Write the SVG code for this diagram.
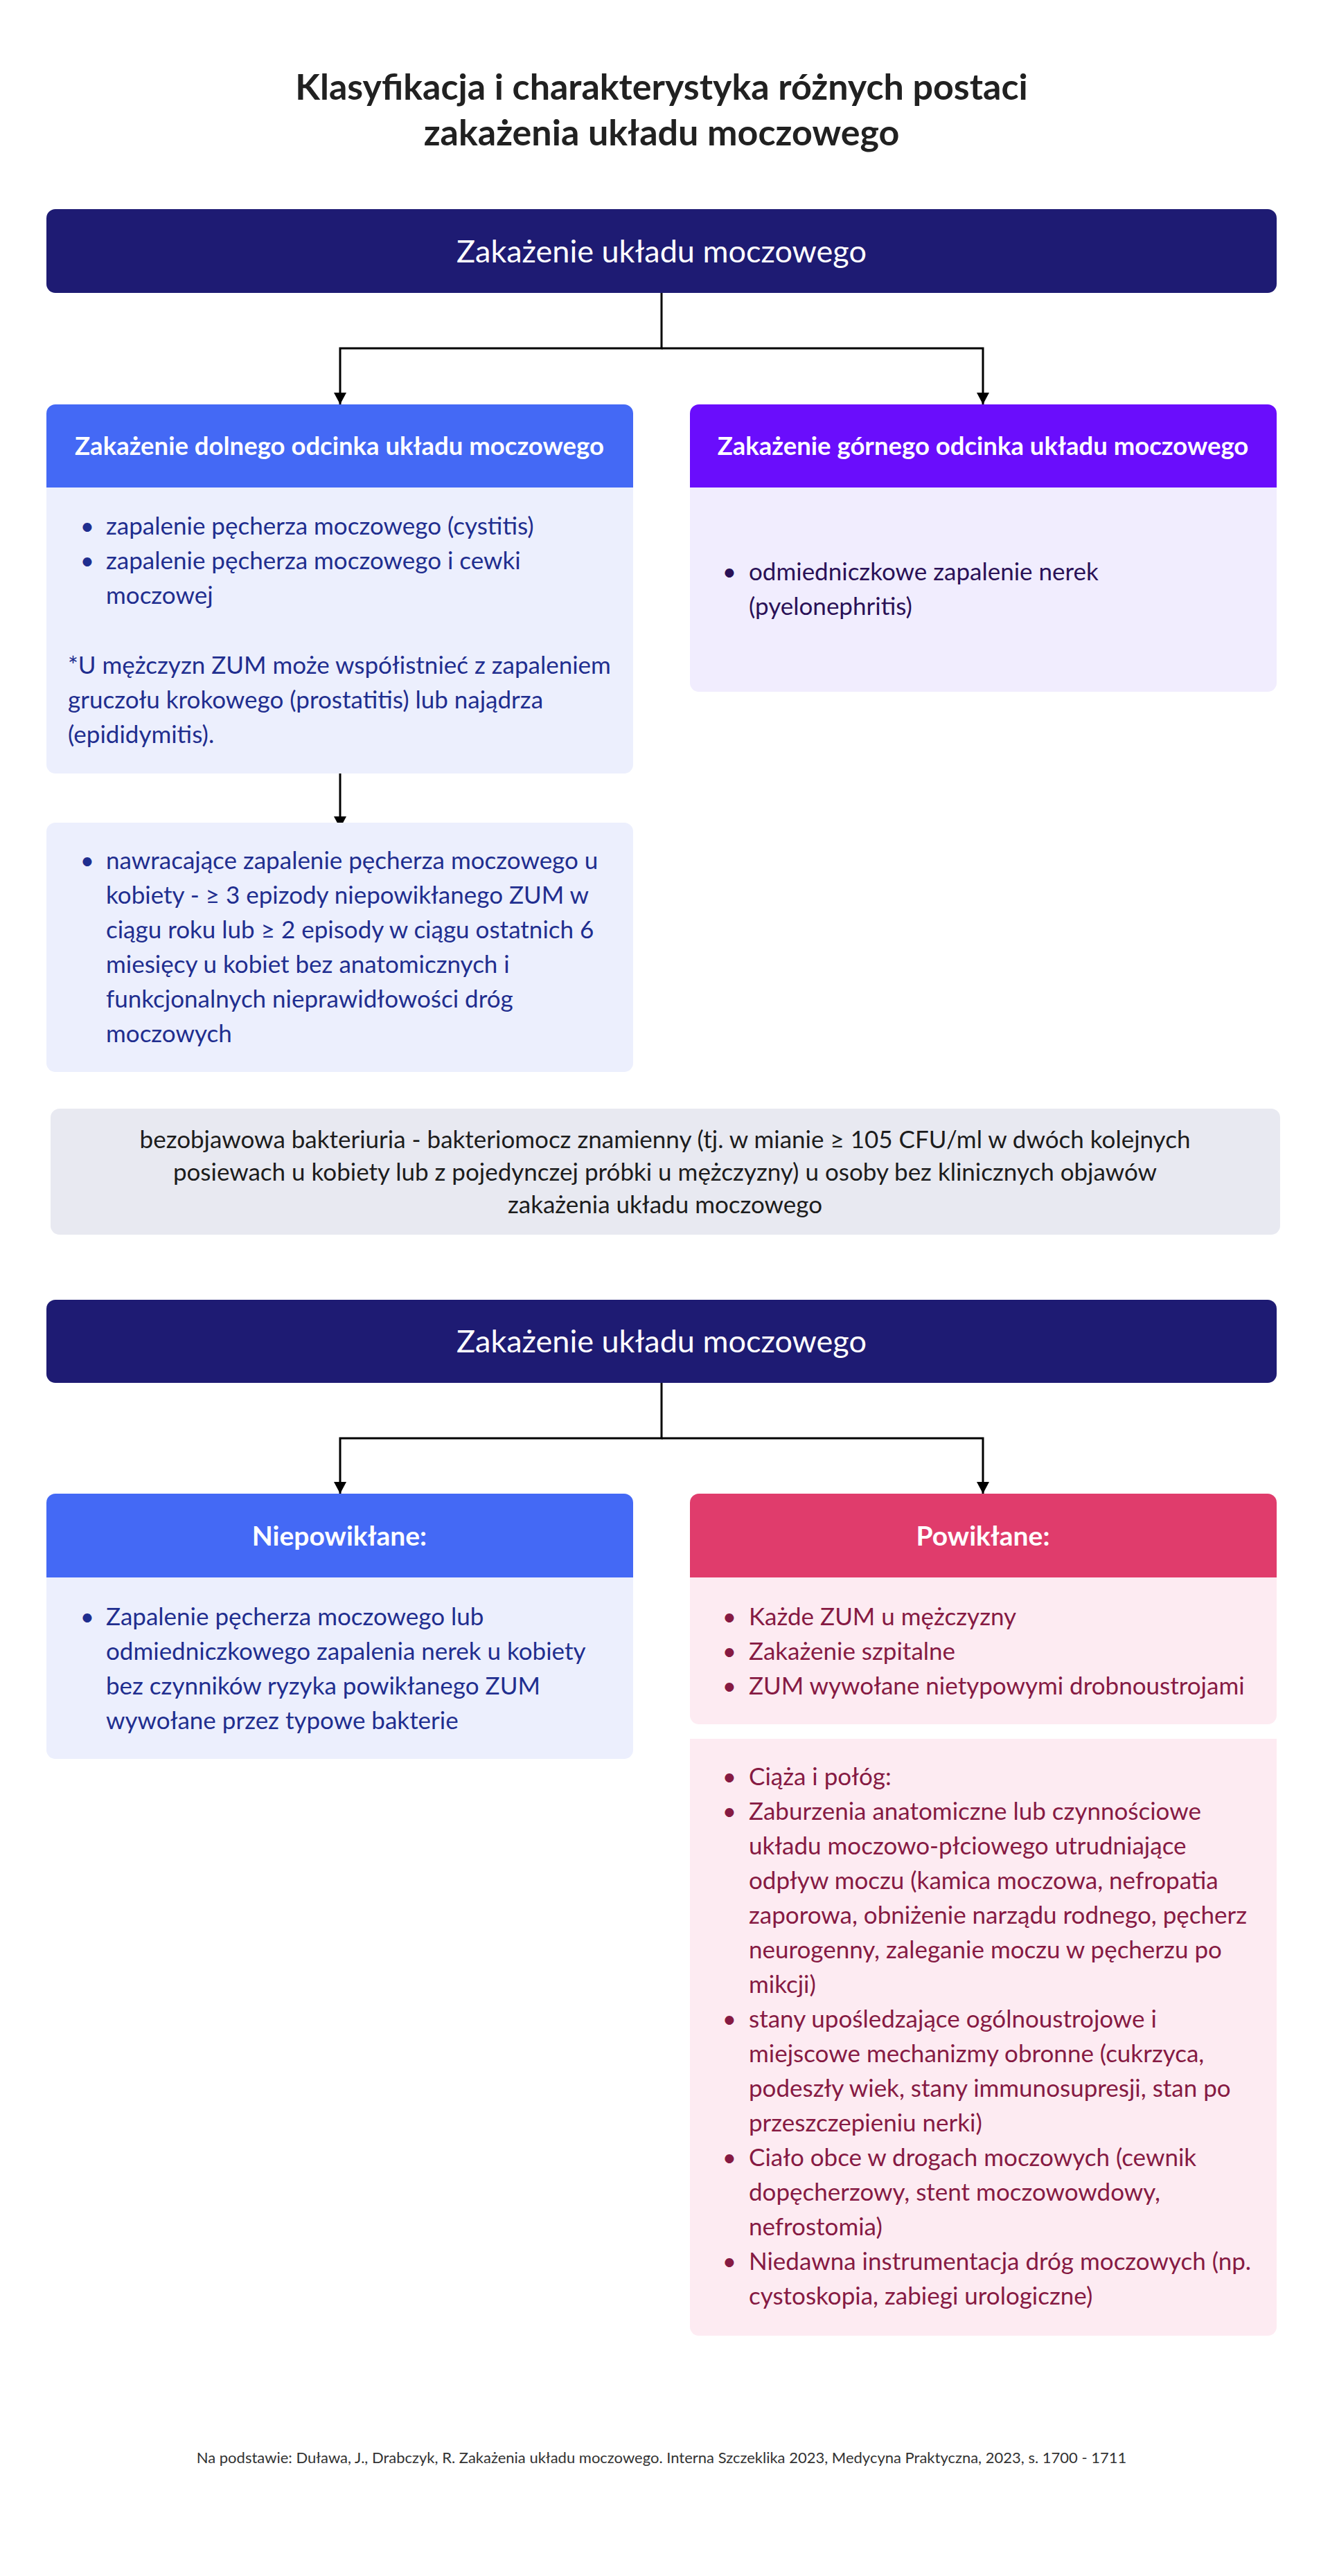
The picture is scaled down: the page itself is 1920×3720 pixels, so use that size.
<svg xmlns="http://www.w3.org/2000/svg" width="1920" height="3720" viewBox="0 0 1920 3720">
<defs>
<marker id="arr" markerUnits="userSpaceOnUse" markerWidth="18" markerHeight="18" refX="17" refY="9" orient="auto">
<path d="M0,0 L17,9 L0,18 Z" fill="#000"/>
</marker>
<style>
text{font-family:Lato,"Noto Sans","Liberation Sans",sans-serif;}
.title{font-size:52px;font-weight:700;fill:#212121;text-anchor:middle;}
.main{font-size:45px;font-weight:400;fill:#fff;text-anchor:middle;}
.sub{font-size:36.5px;font-weight:700;fill:#fff;text-anchor:middle;}
.sub2{font-size:39px;font-weight:700;fill:#fff;text-anchor:middle;}
.b{font-size:35px;}
.bl{text-anchor:middle;}
.blue{fill:#1F2E8F;}
.purp{fill:#2A1157;}
.pink{fill:#861A43;}
.grey{fill:#1C1C1C;font-size:35px;text-anchor:middle;}
.foot{font-size:22px;fill:#333;text-anchor:middle;}
.conn{fill:none;stroke:#000;stroke-width:3;}
</style>
</defs>
<rect width="1920" height="3720" fill="#fff"/>
<g id="title">
<text class="title" x="955" y="144">Klasyfikacja i charakterystyka różnych postaci</text>
<text class="title" x="955" y="210">zakażenia układu moczowego</text>
</g>
<g id="connectors">
<path class="conn" d="M955,423 V503 H491 V584" marker-end="url(#arr)"/>
<path class="conn" d="M955,503 H1419 V584" marker-end="url(#arr)"/>
<path class="conn" d="M491,1117 V1196" marker-end="url(#arr)"/>
<path class="conn" d="M955,1997 V2077 H491 V2157" marker-end="url(#arr)"/>
<path class="conn" d="M955,2077 H1419 V2157" marker-end="url(#arr)"/>
</g>
<g id="node-zum1">
<rect x="67" y="302" width="1776" height="121" rx="13" fill="#1E1B73"/>
<text class="main" x="955" y="379">Zakażenie układu moczowego</text>
</g>
<g id="node-dolny">
<path d="M67,704 V597 A13,13 0 0 1 80,584 H901 A13,13 0 0 1 914,597 V704 Z" fill="#4469F5"/>
<path d="M67,704 H914 V1104 A13,13 0 0 1 901,1117 H80 A13,13 0 0 1 67,1104 Z" fill="#ECEFFD"/>
<text class="sub" x="490" y="657">Zakażenie dolnego odcinka układu moczowego</text>
<g class="b blue">
<text class="bl" x="126" y="772">•</text><text x="153" y="772">zapalenie pęcherza moczowego (cystitis)</text>
<text class="bl" x="126" y="822">•</text><text x="153" y="822">zapalenie pęcherza moczowego i cewki</text>
<text x="153" y="872">moczowej</text>
<text x="98" y="973">*U mężczyzn ZUM może współistnieć z zapaleniem</text>
<text x="98" y="1023">gruczołu krokowego (prostatitis) lub najądrza</text>
<text x="98" y="1073">(epididymitis).</text>
</g>
</g>
<g id="node-nawracajace">
<rect x="67" y="1188" width="847" height="360" rx="13" fill="#ECEFFD"/>
<g class="b blue">
<text class="bl" x="126" y="1255">•</text><text x="153" y="1255">nawracające zapalenie pęcherza moczowego u</text>
<text x="153" y="1305">kobiety - ≥ 3 epizody niepowikłanego ZUM w</text>
<text x="153" y="1355">ciągu roku lub ≥ 2 episody w ciągu ostatnich 6</text>
<text x="153" y="1405">miesięcy u kobiet bez anatomicznych i</text>
<text x="153" y="1455">funkcjonalnych nieprawidłowości dróg</text>
<text x="153" y="1505">moczowych</text>
</g>
</g>
<g id="node-gorny">
<path d="M996,704 V597 A13,13 0 0 1 1009,584 H1830 A13,13 0 0 1 1843,597 V704 Z" fill="#6A0DFC"/>
<path d="M996,704 H1843 V986 A13,13 0 0 1 1830,999 H1009 A13,13 0 0 1 996,986 Z" fill="#F1EDFE"/>
<text class="sub" x="1419" y="657">Zakażenie górnego odcinka układu moczowego</text>
<g class="b purp">
<text class="bl" x="1053" y="838">•</text><text x="1081" y="838">odmiedniczkowe zapalenie nerek</text>
<text x="1081" y="888">(pyelonephritis)</text>
</g>
</g>
<g id="node-bezobjawowa">
<rect x="73" y="1601" width="1775" height="182" rx="13" fill="#E8E9F1"/>
<text class="grey" x="960" y="1658">bezobjawowa bakteriuria - bakteriomocz znamienny (tj. w mianie ≥ 105 CFU/ml w dwóch kolejnych</text>
<text class="grey" x="960" y="1705">posiewach u kobiety lub z pojedynczej próbki u mężczyzny) u osoby bez klinicznych objawów</text>
<text class="grey" x="960" y="1752">zakażenia układu moczowego</text>
</g>
<g id="node-zum2">
<rect x="67" y="1877" width="1776" height="120" rx="13" fill="#1E1B73"/>
<text class="main" x="955" y="1953">Zakażenie układu moczowego</text>
</g>
<g id="node-niepowiklane">
<path d="M67,2278 V2170 A13,13 0 0 1 80,2157 H901 A13,13 0 0 1 914,2170 V2278 Z" fill="#4469F5"/>
<path d="M67,2278 H914 V2527 A13,13 0 0 1 901,2540 H80 A13,13 0 0 1 67,2527 Z" fill="#ECEFFD"/>
<text class="sub2" x="490" y="2232">Niepowikłane:</text>
<g class="b blue">
<text class="bl" x="126" y="2347">•</text><text x="153" y="2347">Zapalenie pęcherza moczowego lub</text>
<text x="153" y="2397">odmiedniczkowego zapalenia nerek u kobiety</text>
<text x="153" y="2447">bez czynników ryzyka powikłanego ZUM</text>
<text x="153" y="2497">wywołane przez typowe bakterie</text>
</g>
</g>
<g id="node-powiklane">
<path d="M996,2278 V2170 A13,13 0 0 1 1009,2157 H1830 A13,13 0 0 1 1843,2170 V2278 Z" fill="#E03C6C"/>
<path d="M996,2278 H1843 V2477 A13,13 0 0 1 1830,2490 H1009 A13,13 0 0 1 996,2477 Z" fill="#FDEBF2"/>
<text class="sub2" x="1419" y="2232">Powikłane:</text>
<g class="b pink">
<text class="bl" x="1053" y="2347">•</text><text x="1081" y="2347">Każde ZUM u mężczyzny</text>
<text class="bl" x="1053" y="2397">•</text><text x="1081" y="2397">Zakażenie szpitalne</text>
<text class="bl" x="1053" y="2447">•</text><text x="1081" y="2447">ZUM wywołane nietypowymi drobnoustrojami</text>
</g>
</g>
<g id="node-czynniki">
<path d="M996,2511 H1843 V3360 A13,13 0 0 1 1830,3373 H1009 A13,13 0 0 1 996,3360 Z" fill="#FDEBF2"/>
<g class="b pink">
<text class="bl" x="1053" y="2578">•</text><text x="1081" y="2578">Ciąża i połóg:</text>
<text class="bl" x="1053" y="2628">•</text><text x="1081" y="2628">Zaburzenia anatomiczne lub czynnościowe</text>
<text x="1081" y="2678">układu moczowo-płciowego utrudniające</text>
<text x="1081" y="2728">odpływ moczu (kamica moczowa, nefropatia</text>
<text x="1081" y="2778">zaporowa, obniżenie narządu rodnego, pęcherz</text>
<text x="1081" y="2828">neurogenny, zaleganie moczu w pęcherzu po</text>
<text x="1081" y="2878">mikcji)</text>
<text class="bl" x="1053" y="2928">•</text><text x="1081" y="2928">stany upośledzające ogólnoustrojowe i</text>
<text x="1081" y="2978">miejscowe mechanizmy obronne (cukrzyca,</text>
<text x="1081" y="3028">podeszły wiek, stany immunosupresji, stan po</text>
<text x="1081" y="3078">przeszczepieniu nerki)</text>
<text class="bl" x="1053" y="3128">•</text><text x="1081" y="3128">Ciało obce w drogach moczowych (cewnik</text>
<text x="1081" y="3178">dopęcherzowy, stent moczowowdowy,</text>
<text x="1081" y="3228">nefrostomia)</text>
<text class="bl" x="1053" y="3278">•</text><text x="1081" y="3278">Niedawna instrumentacja dróg moczowych (np.</text>
<text x="1081" y="3328">cystoskopia, zabiegi urologiczne)</text>
</g>
</g>
<g id="footer">
<text class="foot" x="955" y="3557">Na podstawie: Duława, J., Drabczyk, R. Zakażenia układu moczowego. Interna Szczeklika 2023, Medycyna Praktyczna, 2023, s. 1700 - 1711</text>
</g>
</svg>
